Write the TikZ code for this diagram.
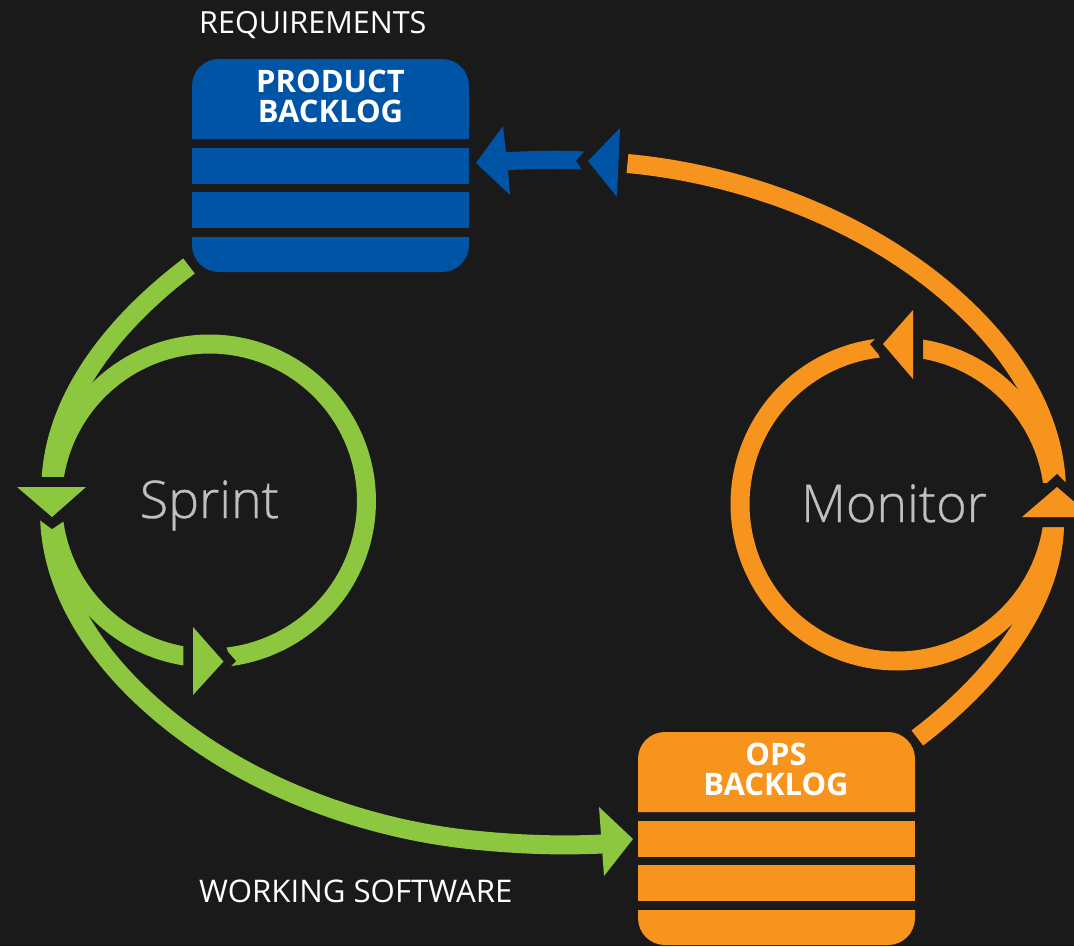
\documentclass[tikz,border=0pt]{standalone}
\usepackage{fontspec}
\setmainfont{Open Sans}
\newfontfamily\lightfont[FakeBold=0.6]{Open Sans Light}
\definecolor{bgc}{HTML}{1A1A1A}
\definecolor{bluec}{HTML}{0054A6}
\definecolor{orangec}{HTML}{F7941E}
\definecolor{greenc}{HTML}{8DC63F}
\definecolor{greyc}{HTML}{BFBFBF}
\tikzset{
  band/.style={line width=19pt,line cap=butt,line join=round},
  cover/.style={fill=bgc,draw=none},
  boxtext/.style={text=white,font=\fontsize{31}{30}\selectfont\bfseries,align=center,inner sep=0pt},
  caption/.style={text=white,anchor=base west,inner sep=0pt},
  cycle/.style={text=greyc,font=\lightfont\fontsize{52}{54}\selectfont,inner sep=0pt,anchor=base}
}
\newcommand{\backlog}[3]{% x, y, colour
  \begin{scope}[shift={(#1,#2)}]
    \fill[#3] (0,80) -- (0,27) .. controls (0,12) and (12,0) .. (27,0) -- (250,0)
       .. controls (265,0) and (277,12) .. (277,27) -- (277,80) -- cycle;
    \fill[#3] (0,89) rectangle (277,125);
    \fill[#3] (0,133) rectangle (277,169);
    \fill[#3] (0,178) -- (0,186) .. controls (0,201) and (12,213) .. (27,213) -- (250,213)
       .. controls (265,213) and (277,201) .. (277,186) -- (277,178) -- cycle;
  \end{scope}}
\begin{document}
\begin{tikzpicture}[x=1pt,y=-1pt]
\fill[bgc] (0,0) rectangle (1074,946);
\useasboundingbox (0,0) rectangle (1074,946);

% backlogs
\backlog{192}{59}{bluec}
\backlog{638}{732}{orangec}
\node[boxtext] (pbt) at (330.5,96) {PRODUCT\\BACKLOG};
\node[boxtext] (obt) at (776,769) {OPS\\BACKLOG};

% labels
\node[caption,font=\fontsize{30.5}{32}\selectfont] (req) at (199,33) {REQUIREMENTS};
\node[caption,font=\fontsize{31.2}{32}\selectfont] (work) at (199,902) {WORKING SOFTWARE};
\node[cycle] (sprint) at (209.5,518) {Sprint};
\node[cycle] (monitor) at (894,522) {Monitor};

% arc end points
\coordinate (gus) at (189,266);
\coordinate (gue) at (51,482);
\coordinate (gls) at (49.5,514);
\coordinate (glm) at (206,747);
\coordinate (gln) at (478.5,840.5);
\coordinate (gle) at (602,844);
\coordinate (ous) at (627.5,163.5);
\coordinate (oum) at (900,257);
\coordinate (oue) at (1056.5,490);
\coordinate (ols) at (1055,520);
\coordinate (ole) at (917.3,738);

% green arcs
\draw[band,greenc] (gus) .. controls (106,329) and (54,404) .. (gue);
\draw[band,greenc] (gls) .. controls (51,619) and (136,701) .. (glm)
   .. controls (286,800) and (386,832) .. (gln)
   .. controls (520,844.5) and (560,846) .. (gle);
\draw[band,greenc] plot[domain=85:-176,samples=130] ({209.5+157*cos(\x)},{501+157*sin(\x)});
\draw[band,greenc] plot[domain=175:98,samples=50] ({209.5+157*cos(\x)},{501+157*sin(\x)});
\fill[cover] (32,477) -- (72,477) -- (72,516) -- (61,523) -- (52,529) -- (41,521) -- (32,514) -- cycle;
\fill[cover] (183.3,640) -- (224,640) -- (228,652) -- (236,661) -- (229,668) -- (229,680) -- (183.3,680) -- cycle;
\fill[greenc] (17,487) -- (86,487) -- (52,517) -- cycle;
\fill[greenc] (193,627) -- (223.5,661.5) -- (193,695) -- cycle;
\fill[greenc] (599,807) -- (633,839) -- (604,876) -- cycle;

% orange arcs
\draw[band,orangec] (ous) .. controls (720,172) and (820,204) .. (oum)
   .. controls (970,303) and (1055,385) .. (oue);
\draw[band,orangec] (ols) -- (1054.5,527) .. controls (1052,600) and (1000,675) .. (ole);
\draw[band,orangec] plot[domain=6:265,samples=130] ({897+157*cos(\x)},{504+157*sin(\x)});
\draw[band,orangec] plot[domain=-4:-82,samples=50] ({897+157*cos(\x)},{504+157*sin(\x)});
\fill[cover] (1035,527) -- (1035,483) -- (1047,483) -- (1057,474) -- (1065,482) -- (1074,482) -- (1074,527) -- cycle;
\fill[cover] (923,330) -- (923,365) -- (882,365) -- (879,355) -- (870,344) -- (877,337) -- (880,330) -- cycle;
\fill[orangec] (913,310) -- (883,344) -- (913,379) -- cycle;
\fill[orangec] (1022,517) -- (1057,487) -- (1074,501.6) -- (1074,517) -- cycle;

% blue arrow
\fill[bluec] (503,126) -- (476,163) -- (510,195) -- (508,170)
   .. controls (535,169) and (560,168.5) .. (582,169.5)
   -- (576,161) -- (584,151.5)
   .. controls (560,150) and (535,151) .. (506,152) -- cycle;
\fill[bluec] (620,128) -- (588,161) -- (617,197) -- cycle;
\end{tikzpicture}
\end{document}
